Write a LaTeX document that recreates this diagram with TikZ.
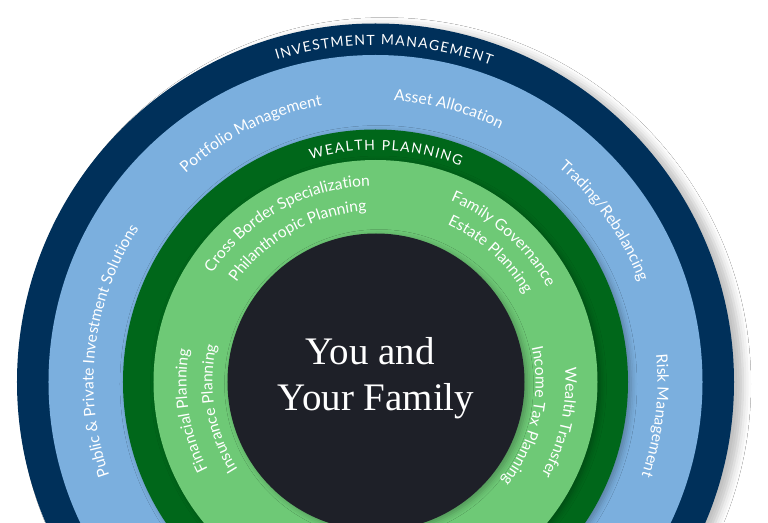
\documentclass[tikz,border=0pt]{standalone}
\usepackage{fontspec}
\setmainfont{Liberation Serif}
\newfontfamily\lato{Lato}
\usetikzlibrary{decorations.text,shadows.blur}
\definecolor{navy}{HTML}{00305A}
\definecolor{skyband}{HTML}{7BAFDE}
\definecolor{darkgreen}{HTML}{00671A}
\definecolor{lightgreen}{HTML}{6EC976}
\definecolor{core}{HTML}{1E2028}
% #1 radius (pt), #2 centre angle, #3 half span, #4 font size, #5 text
\newcommand\arclabel[5]{%
  \path[decorate,decoration={text along path,text align=center,text color=white,
    text={|\lato\fontsize{#4}{#4}\selectfont|#5}}]
    ({#2+#3}:#1pt) arc[start angle={#2+#3}, end angle={#2-#3}, radius=#1pt];}
% #1 radius, #2 start angle, #3 end angle, #4 size, #5 text (spread to fit)
\newcommand\arcspread[5]{%
  \path[decorate,decoration={text along path,text align=fit to path,text color=white,
    text={|\lato\fontsize{#4}{#4}\selectfont|#5}}]
    (#2:#1pt) arc[start angle=#2, end angle=#3, radius=#1pt];}
\begin{document}
\begin{tikzpicture}[
  ringshadow/.style={blur shadow={shadow xshift=3pt,shadow yshift=-2pt,shadow blur radius=6pt,shadow opacity=28}},
  outershadow/.style={blur shadow={shadow xshift=9pt,shadow yshift=-2pt,shadow blur radius=8pt,shadow opacity=25}},
  centrelabel/.style={text=white,anchor=base,font=\fontsize{39}{45}\selectfont,inner sep=0pt}]
\useasboundingbox (-375.5pt,-140pt) rectangle (392.5pt,382pt);
\fill[white] (-375.5pt,-140pt) rectangle (392.5pt,382pt);
\clip (-375.5pt,-140pt) rectangle (392.5pt,382pt);
\path[fill=navy,outershadow] (0,0) circle (358.5pt);
\path[fill=skyband] (0,0) circle (327pt);
\path[fill=darkgreen,ringshadow] (0,0) circle (252.5pt);
\path[fill=lightgreen,ringshadow] (0,0) circle (222pt);
\path[fill=core,ringshadow] (0.5pt,0) circle (148.5pt);
\node[centrelabel] (you) at (-5.5pt,17pt) {You and};
\node[centrelabel] (yourfamily) at (0.5pt,-28pt) {Your Family};
% outer captions
\arcspread{337}{107}{70}{14}{INVESTMENT MANAGEMENT}
\arcspread{232}{106.2}{68.5}{14}{WEALTH PLANNING}
% investment management band
\arclabel{282}{116.6}{40}{15.6}{Portfolio Management}
\arclabel{282}{75}{40}{15.6}{Asset Allocation}
\arclabel{282}{35.1}{40}{15.6}{Trading/Rebalancing}
\arclabel{282}{-6.9}{40}{15.6}{Risk Management}
\arclabel{282}{173.2}{50}{15.6}{Public {\&} Private Investment Solutions}
% wealth planning band
\arclabel{196}{119}{45}{15.6}{Cross Border Specialization}
\arclabel{171}{118.7}{45}{15.6}{Philanthropic Planning}
\arclabel{196}{48.2}{45}{15.6}{Family Governance}
\arclabel{173}{48}{45}{15.6}{Estate Planning}
\arclabel{189}{188.9}{45}{15.6}{Financial Planning}
\arclabel{163}{189.7}{45}{15.6}{Insurance Planning}
\arclabel{190}{-12.4}{45}{15.6}{Wealth Transfer}
\arclabel{160}{-12.8}{45}{15.6}{Income Tax Planning}
\end{tikzpicture}
\end{document}
